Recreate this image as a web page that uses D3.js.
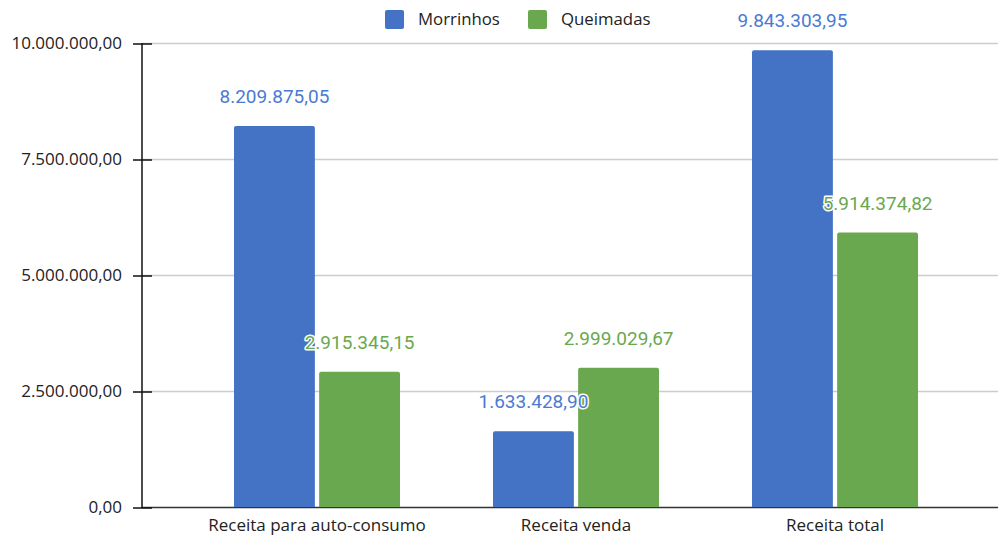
<!DOCTYPE html>
<html>
<head>
<meta charset="utf-8">
<script src="https://cdn.jsdelivr.net/npm/d3@7"></script>
<style>
  body { margin: 0; background: #fff; }
  svg { display: block; }
</style>
</head>
<body>
<svg width="998" height="537"></svg>
<script>
// dados do gráfico
const categories = ["Receita para auto-consumo", "Receita venda", "Receita total"];
const seriesNames = ["Morrinhos", "Queimadas"];
const morrinhos = [8209875.05, 1633428.90, 9843303.95];
const queimadas = [2915345.15, 2999029.67, 5914374.82];
const yTicks = [0, 2500000, 5000000, 7500000, 10000000];

const barColors = ["#4472c4", "#6aa84f"];
const labelColors = ["#4a7bd3", "#6aa84f"];

const svg = d3.select("svg");
const width = +svg.attr("width");

const axisX = 142;
const y = d3.scaleLinear().domain([0, 10000000]).range([507, 43]);
const x0 = d3.scaleBand().domain(categories).range([187.5, 964.5]).padding(0);
const x1 = d3.scaleBand().domain(seriesNames).range([0, 166]).paddingInner(0.05);

// formato pt-BR
const fmt = d3.formatLocale({ decimal: ",", thousands: ".", grouping: [3], currency: ["R$", ""] }).format(",.2f");

// grade
svg.append("g").selectAll("line").data(yTicks).join("line")
    .attr("x1", axisX).attr("x2", width)
    .attr("y1", d => y(d) + 0.5).attr("y2", d => y(d) + 0.5)
    .attr("stroke", d => d === 0 ? "#333" : "#cccccc")
    .attr("stroke-width", 1.5);

// barras
const data = categories.map((c, i) => ({ cat: c, vals: [morrinhos[i], queimadas[i]] }));
const groups = svg.append("g").selectAll("g").data(data).join("g")
    .attr("transform", d => `translate(${x0(d.cat) + x0.bandwidth() / 2 - 83},0)`);

function topRounded(x, yTop, w, h, r) {
    return `M${x},${yTop + h}V${yTop + r}Q${x},${yTop} ${x + r},${yTop}H${x + w - r}Q${x + w},${yTop} ${x + w},${yTop + r}V${yTop + h}Z`;
}

groups.selectAll("path").data(d => d.vals.map((v, i) => ({ v, i }))).join("path")
    .attr("d", d => topRounded(x1(seriesNames[d.i]), y(d.v), x1.bandwidth(), y(0) - y(d.v), 2))
    .attr("fill", d => barColors[d.i]);

// eixo y
const yAxis = svg.append("g").attr("transform", `translate(${axisX},0.5)`)
    .call(d3.axisLeft(y).tickValues(yTicks).tickFormat(fmt).tickSize(0).tickPadding(20));
yAxis.select(".domain").remove();
yAxis.selectAll("text").attr("font-family", "Open Sans").attr("font-size", 17).attr("fill", "#222");
yAxis.selectAll(".tick").append("line").attr("x1", -9).attr("x2", 10).attr("stroke", "#111").attr("stroke-width", 1.5);
svg.append("line").attr("x1", axisX).attr("x2", axisX).attr("y1", 43).attr("y2", 508)
    .attr("stroke", "#111").attr("stroke-width", 1.5);

// rótulos das categorias
svg.append("g").selectAll("text").data(categories).join("text")
    .attr("x", d => x0(d) + x0.bandwidth() / 2)
    .attr("y", 531)
    .attr("text-anchor", "middle")
    .attr("font-family", "Open Sans").attr("font-size", 17).attr("fill", "#222")
    .text(d => d);

// rótulos de valores
groups.selectAll("text").data(d => d.vals.map((v, i) => ({ v, i }))).join("text")
    .attr("x", d => x1(seriesNames[d.i]) + x1.bandwidth() / 2)
    .attr("y", d => y(d.v) - 23)
    .attr("text-anchor", "middle")
    .attr("font-family", "Roboto").attr("font-size", 19)
    .attr("fill", d => labelColors[d.i])
    .attr("stroke", "#fff").attr("stroke-width", 3).attr("paint-order", "stroke")
    .attr("stroke-linejoin", "round")
    .text(d => fmt(d.v));

// legenda
const legend = svg.append("g");
const legendX = [385, 528];
seriesNames.forEach((s, i) => {
    legend.append("rect").attr("x", legendX[i]).attr("y", 10).attr("width", 19).attr("height", 19)
        .attr("rx", 2).attr("fill", barColors[i]);
    legend.append("text").attr("x", legendX[i] + 33).attr("y", 25)
        .attr("font-family", "Open Sans").attr("font-size", 16.8).attr("fill", "#222")
        .text(s);
});
</script>
</body>
</html>
